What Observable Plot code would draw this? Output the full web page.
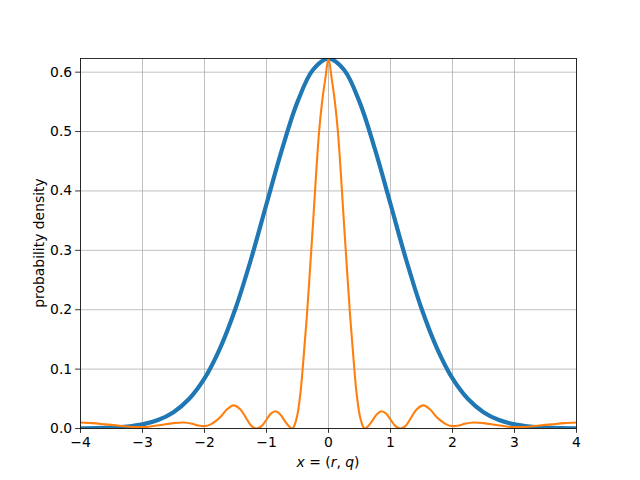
<!DOCTYPE html>
<html>
<head>
<meta charset="utf-8">
<script src="https://cdn.jsdelivr.net/npm/d3@7"></script>
<script src="https://cdn.jsdelivr.net/npm/@observablehq/plot@0.6"></script>
<style>
  html, body { margin: 0; padding: 0; background: white; }
</style>
</head>
<body>
<div id="chart"></div>
<script>
// Tick values
const xTicks = [-4, -3, -2, -1, 0, 1, 2, 3, 4];
const yTicks = [0.0, 0.1, 0.2, 0.3, 0.4, 0.5, 0.6];

// Blue series (wide bell curve)
const blueX = [-4, -3.75, -3.5, -3.25, -3, -2.75, -2.5, -2.25, -2, -1.75, -1.5, -1.25, -1, -0.75, -0.5, -0.25,
  0, 0.25, 0.5, 0.75, 1, 1.25, 1.5, 1.75, 2, 2.25, 2.5, 2.75, 3, 3.25, 3.5, 3.75, 4];
const blueY = [0.0002, 0.0005, 0.0014, 0.0032, 0.0069, 0.0142, 0.0274, 0.0496, 0.0843, 0.135, 0.202, 0.285, 0.378, 0.470, 0.550, 0.604,
  0.623, 0.604, 0.550, 0.470, 0.378, 0.285, 0.202, 0.135, 0.0843, 0.0496, 0.0274, 0.0142, 0.0069, 0.0032, 0.0014, 0.0005, 0.0002];

// Orange series (narrow peak with side lobes)
const orangeX = [-4.0, -3.8, -3.6, -3.4, -3.2, -3.05, -2.9, -2.7, -2.5, -2.34, -2.2, -2.1, -2.0, -1.9, -1.8, -1.72, -1.64, -1.53, -1.42, -1.32, -1.24, -1.16, -1.08, -1.0, -0.93, -0.855, -0.78, -0.7, -0.62, -0.58, -0.55, -0.5, -0.45, -0.4, -0.35, -0.3, -0.25, -0.2, -0.15, -0.1, -0.05,
  0,
  0.05, 0.1, 0.15, 0.2, 0.25, 0.3, 0.35, 0.4, 0.45, 0.5, 0.55, 0.58, 0.62, 0.7, 0.78, 0.855, 0.93, 1.0, 1.08, 1.16, 1.24, 1.32, 1.42, 1.53, 1.64, 1.72, 1.8, 1.9, 2.0, 2.1, 2.2, 2.34, 2.5, 2.7, 2.9, 3.05, 3.2, 3.4, 3.6, 3.8, 4.0];
const orangeY = [0.010, 0.009, 0.007, 0.005, 0.003, 0.0025, 0.003, 0.006, 0.009, 0.010, 0.008, 0.005, 0.004, 0.007, 0.014, 0.022, 0.032, 0.039, 0.032, 0.016, 0.004, 0.0, 0.004, 0.015, 0.025, 0.029, 0.024, 0.012, 0.002, 0.0, 0.005, 0.024, 0.062, 0.122, 0.188, 0.265, 0.345, 0.428, 0.502, 0.553, 0.590,
  0.623,
  0.590, 0.553, 0.502, 0.428, 0.345, 0.265, 0.188, 0.122, 0.062, 0.024, 0.005, 0.0, 0.002, 0.012, 0.024, 0.029, 0.025, 0.015, 0.004, 0.0, 0.004, 0.016, 0.032, 0.039, 0.032, 0.022, 0.014, 0.007, 0.004, 0.005, 0.008, 0.010, 0.009, 0.006, 0.003, 0.0025, 0.003, 0.005, 0.007, 0.009, 0.010];

const blue = blueX.map((x, i) => ({x, y: blueY[i]}));
const orange = orangeX.map((x, i) => ({x, y: orangeY[i]}));

const minusFmt = d => (d < 0 ? "\u2212" + (-d) : String(d));
const gridStyle = {stroke: "#b0b0b0", strokeOpacity: 1, strokeWidth: 0.8};

const svg = Plot.plot({
  width: 640,
  height: 480,
  marginLeft: 80,
  marginRight: 64,
  marginTop: 58,
  marginBottom: 52,
  style: {fontFamily: "DejaVu Sans", fontSize: "13.9px", background: "white", color: "black", overflow: "visible"},
  x: {domain: [-4, 4]},
  y: {domain: [0, 0.623]},
  marks: [
    Plot.gridX(xTicks, gridStyle),
    Plot.gridY(yTicks, gridStyle),
    Plot.line(blue, {x: "x", y: "y", stroke: "#1f77b4", strokeWidth: 4.17, curve: "catmull-rom", clip: true}),
    Plot.line(orange, {x: "x", y: "y", stroke: "#ff7f0e", strokeWidth: 2.08, curve: "catmull-rom", clip: true}),
    Plot.frame({stroke: "black", strokeWidth: 0.8}),
    Plot.axisX(xTicks, {tickSize: 4.86, tickPadding: 3.5, tickFormat: minusFmt, label: null, strokeWidth: 0.8}),
    Plot.axisY(yTicks, {tickSize: 4.86, tickPadding: 3.5, tickFormat: d3.format(".1f"), label: null, strokeWidth: 0.8})
  ]
});

document.getElementById("chart").appendChild(svg);

// Axis labels
const s = d3.select(svg);
const xl = s.append("text")
  .attr("x", 328).attr("y", 467)
  .attr("text-anchor", "middle")
  .attr("font-family", "DejaVu Sans")
  .attr("font-size", 13.9)
  .attr("fill", "black");
[["x", true], [" = (", false], ["r", true], [", ", false], ["q", true], [")", false]].forEach(([t, it]) => {
  xl.append("tspan").attr("font-style", it ? "italic" : "normal").text(t);
});

s.append("text")
  .attr("transform", "translate(43.5,243) rotate(-90)")
  .attr("text-anchor", "middle")
  .attr("font-family", "DejaVu Sans")
  .attr("font-size", 13.9)
  .attr("fill", "black")
  .text("probability density");
</script>
</body>
</html>
